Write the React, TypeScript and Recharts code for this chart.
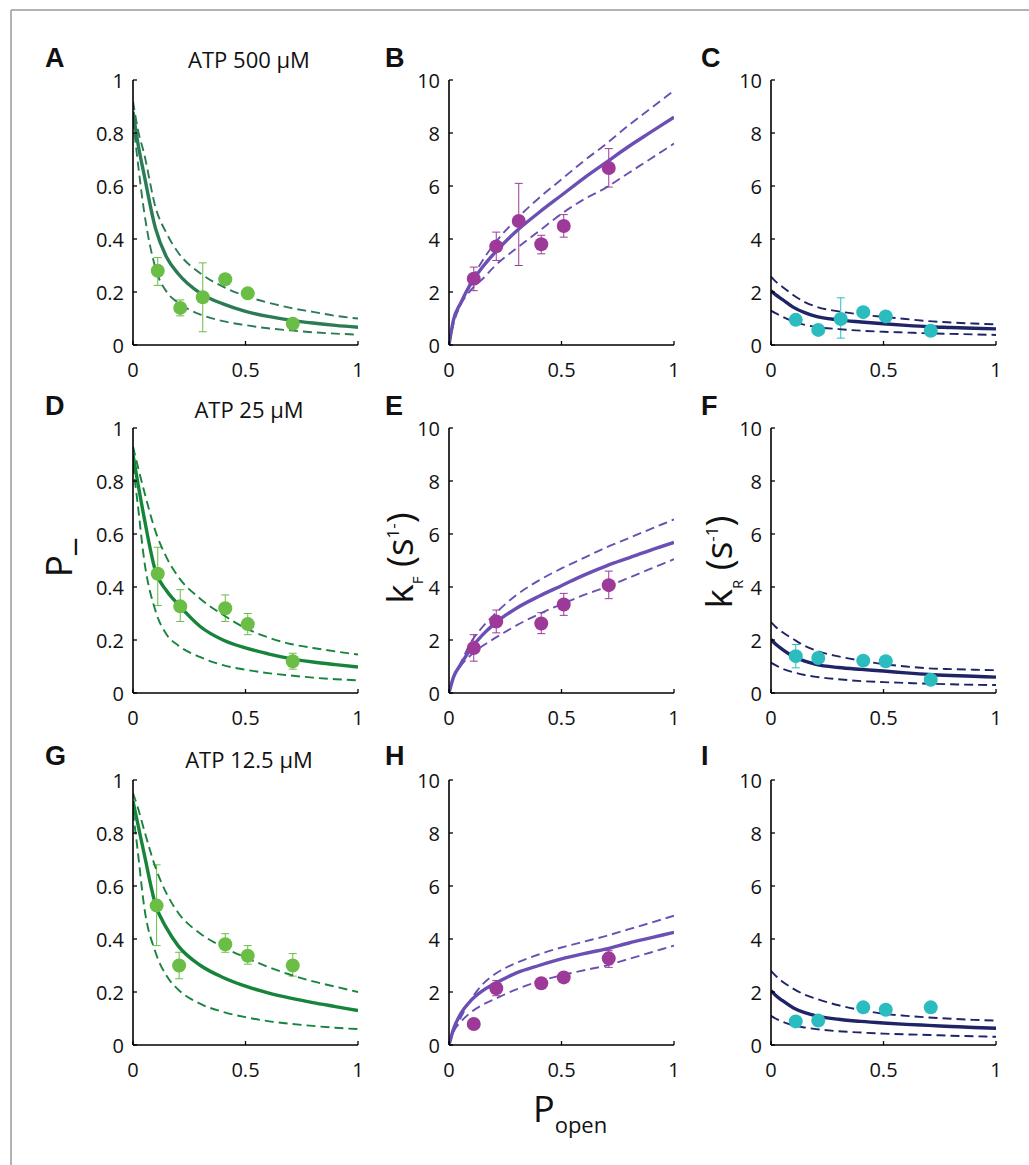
import React from "react";
import { ComposedChart, Line, Scatter, ErrorBar, XAxis, YAxis } from "recharts";

// ─── shared x grid for the fitted curves ─────────────────────────
const curveX = [0, 0.02, 0.05, 0.1, 0.15, 0.2, 0.3, 0.4, 0.5, 0.6, 0.7, 0.8, 0.9, 1];
const xTicks = [0, 0.5, 1];
const pTicks = [0, 0.2, 0.4, 0.6, 0.8, 1];
const kTicks = [0, 2, 4, 6, 8, 10];

// ─── ATP 500 µM ──────────────────────────────────────────────────
const aSolid = [0.88, 0.77, 0.64, 0.44, 0.33, 0.27, 0.195, 0.155, 0.127, 0.108, 0.094, 0.083, 0.074, 0.067];
const aUpper = [0.92, 0.82, 0.72, 0.52, 0.42, 0.35, 0.27, 0.22, 0.185, 0.16, 0.14, 0.125, 0.11, 0.1];
const aLower = [0.85, 0.7, 0.5, 0.29, 0.2, 0.16, 0.115, 0.09, 0.075, 0.063, 0.055, 0.048, 0.043, 0.039];
const aX = [0.11, 0.21, 0.31, 0.41, 0.51, 0.71];
const aY = [0.28, 0.14, 0.18, 0.248, 0.195, 0.08];
const aHi = [0.33, 0.17, 0.31, 0.26, 0.205, 0.09];
const aLo = [0.225, 0.11, 0.05, 0.235, 0.185, 0.07];

const bSolid = [0, 0.95, 1.55, 2.35, 2.95, 3.45, 4.3, 5.0, 5.65, 6.3, 6.9, 7.5, 8.05, 8.6];
const bUpper = [0, 0.8, 1.5, 2.45, 3.2, 3.8, 4.75, 5.55, 6.25, 6.95, 7.6, 8.3, 8.95, 9.6];
const bLower = [0, 0.9, 1.5, 2.1, 2.5, 2.95, 3.65, 4.3, 4.95, 5.5, 5.95, 6.5, 7.05, 7.6];
const bX = [0.11, 0.21, 0.31, 0.41, 0.51, 0.71];
const bY = [2.5, 3.72, 4.68, 3.8, 4.49, 6.68];
const bHi = [2.94, 4.26, 6.1, 4.14, 4.92, 7.41];
const bLo = [2.05, 3.19, 3.0, 3.44, 4.07, 5.96];

const cSolid = [2.05, 1.9, 1.72, 1.42, 1.22, 1.08, 0.95, 0.87, 0.8, 0.74, 0.69, 0.66, 0.63, 0.61];
const cUpper = [2.58, 2.4, 2.2, 1.88, 1.62, 1.45, 1.27, 1.15, 1.06, 0.98, 0.9, 0.85, 0.81, 0.78];
const cLower = [1.3, 1.2, 1.07, 0.88, 0.76, 0.68, 0.6, 0.54, 0.5, 0.47, 0.44, 0.42, 0.4, 0.38];
const cX = [0.11, 0.21, 0.31, 0.41, 0.51, 0.71];
const cY = [0.95, 0.57, 0.98, 1.24, 1.08, 0.54];
const cHi = [1.05, 0.65, 1.78, 1.35, 1.18, 0.62];
const cLo = [0.85, 0.5, 0.26, 1.13, 0.98, 0.46];

// ─── ATP 25 µM ───────────────────────────────────────────────────
const dSolid = [0.9, 0.8, 0.66, 0.46, 0.385, 0.335, 0.25, 0.2, 0.17, 0.148, 0.13, 0.117, 0.107, 0.098];
const dUpper = [0.93, 0.86, 0.76, 0.61, 0.51, 0.44, 0.355, 0.295, 0.245, 0.21, 0.185, 0.17, 0.157, 0.145];
const dLower = [0.86, 0.72, 0.5, 0.31, 0.22, 0.18, 0.135, 0.105, 0.088, 0.075, 0.066, 0.058, 0.052, 0.048];
const dX = [0.11, 0.21, 0.41, 0.51, 0.71];
const dY = [0.45, 0.327, 0.32, 0.26, 0.12];
const dHi = [0.55, 0.39, 0.37, 0.3, 0.15];
const dLo = [0.33, 0.27, 0.27, 0.22, 0.09];

const eSolid = [0, 0.6, 1.05, 1.7, 2.2, 2.6, 3.2, 3.65, 4.05, 4.45, 4.8, 5.1, 5.4, 5.68];
const eUpper = [0, 0.6, 1.1, 1.95, 2.5, 2.95, 3.7, 4.25, 4.7, 5.1, 5.5, 5.85, 6.2, 6.55];
const eLower = [0, 0.6, 1.0, 1.45, 1.78, 2.05, 2.55, 2.98, 3.35, 3.7, 4.0, 4.35, 4.7, 5.05];
const eX = [0.11, 0.21, 0.41, 0.51, 0.71];
const eY = [1.7, 2.7, 2.62, 3.34, 4.07];
const eHi = [2.2, 3.13, 3.03, 3.76, 4.6];
const eLo = [1.2, 2.27, 2.24, 2.93, 3.56];

const fSolid = [2.02, 1.85, 1.65, 1.38, 1.2, 1.08, 0.96, 0.89, 0.83, 0.76, 0.7, 0.66, 0.63, 0.6];
const fUpper = [2.67, 2.5, 2.3, 2.03, 1.78, 1.6, 1.38, 1.22, 1.09, 1.0, 0.93, 0.9, 0.88, 0.86];
const fLower = [1.15, 1.05, 0.92, 0.78, 0.68, 0.61, 0.52, 0.45, 0.41, 0.38, 0.35, 0.33, 0.31, 0.3];
const fX = [0.11, 0.21, 0.41, 0.51, 0.71];
const fY = [1.39, 1.32, 1.22, 1.2, 0.5];
const fHi = [1.83, 1.42, 1.3, 1.3, 0.58];
const fLo = [0.95, 1.22, 1.14, 1.1, 0.42];

// ─── ATP 12.5 µM ─────────────────────────────────────────────────
const gSolid = [0.92, 0.84, 0.72, 0.53, 0.44, 0.375, 0.3, 0.255, 0.222, 0.197, 0.177, 0.16, 0.145, 0.13];
const gUpper = [0.95, 0.9, 0.81, 0.67, 0.57, 0.5, 0.42, 0.37, 0.33, 0.295, 0.265, 0.24, 0.22, 0.2];
const gLower = [0.88, 0.74, 0.52, 0.35, 0.26, 0.21, 0.155, 0.125, 0.105, 0.09, 0.08, 0.072, 0.065, 0.06];
const gX = [0.105, 0.205, 0.41, 0.51, 0.71];
const gY = [0.526, 0.3, 0.38, 0.337, 0.3];
const gHi = [0.68, 0.35, 0.42, 0.375, 0.345];
const gLo = [0.375, 0.25, 0.35, 0.305, 0.26];

const hSolid = [0, 0.6, 1.15, 1.7, 2.05, 2.3, 2.72, 3.0, 3.25, 3.45, 3.63, 3.85, 4.05, 4.25];
const hUpper = [0, 0.5, 1.0, 1.75, 2.3, 2.65, 3.1, 3.42, 3.68, 3.9, 4.12, 4.37, 4.62, 4.88];
const hLower = [0, 0.5, 0.85, 1.25, 1.52, 1.72, 2.1, 2.4, 2.63, 2.82, 3.0, 3.25, 3.5, 3.75];
const hX = [0.11, 0.21, 0.41, 0.51, 0.71];
const hY = [0.79, 2.14, 2.33, 2.55, 3.27];
const hHi = [0.95, 2.43, 2.45, 2.7, 3.56];
const hLo = [0.6, 1.86, 2.2, 2.4, 2.93];

const iSolid = [2.05, 1.88, 1.68, 1.4, 1.22, 1.1, 0.97, 0.89, 0.83, 0.78, 0.74, 0.7, 0.66, 0.63];
const iUpper = [2.8, 2.62, 2.4, 2.12, 1.9, 1.75, 1.5, 1.32, 1.18, 1.1, 1.04, 0.99, 0.95, 0.92];
const iLower = [1.1, 1.0, 0.88, 0.74, 0.66, 0.6, 0.52, 0.47, 0.43, 0.4, 0.38, 0.35, 0.33, 0.31];
const iX = [0.11, 0.21, 0.41, 0.51, 0.71];
const iY = [0.89, 0.92, 1.42, 1.33, 1.42];
const iHi = [1.0, 1.02, 1.5, 1.42, 1.5];
const iLo = [0.78, 0.82, 1.34, 1.24, 1.34];

// ─── colours ─────────────────────────────────────────────────────
const GREEN_TOP = "#2b7b55";
const GREEN = "#17843c";
const GREEN_DOT = "#6abd45";
const PURPLE = "#6b4fb3";
const PURPLE_DOT = "#9d3a99";
const NAVY = "#1e2466";
const CYAN_DOT = "#2bbcbf";

const BOX_W = 225;
const BOX_H = 265;
const Y_AX_W = 50;
const M_TOP = 20;
const M_RIGHT = 10;
const X_AX_H = 40;

const tickFont = { fontFamily: "'Open Sans', sans-serif", fontSize: 20, fill: "#111" };

const BottomTick = ({ x, y, payload }: any) => (
  <g>
    <line x1={x} x2={x} y1={y} y2={y - 4} stroke="#000" strokeWidth={1.3} />
    <text x={x} y={y + 24} textAnchor="middle" dominantBaseline="central" {...tickFont}>
      {payload.value}
    </text>
  </g>
);
const TopTick = ({ x, y }: any) => <line x1={x} x2={x} y1={y} y2={y + 4} stroke="#000" strokeWidth={1.3} />;
const LeftTick = ({ x, y, payload }: any) => (
  <g>
    <line x1={x} x2={x + 4} y1={y} y2={y} stroke="#000" strokeWidth={1.3} />
    <text x={x - 9} y={y} textAnchor="end" dominantBaseline="central" {...tickFont}>
      {payload.value}
    </text>
  </g>
);
const RightTick = ({ x, y }: any) => <line x1={x} x2={x - 4} y1={y} y2={y} stroke="#000" strokeWidth={1.3} />;

const panels = [
  { id: "A", left: 133, top: 80, yMax: 1, yTicks: pTicks, solid: aSolid, upper: aUpper, lower: aLower, px: aX, py: aY, hi: aHi, lo: aLo, line: GREEN_TOP, dot: GREEN_DOT },
  { id: "B", left: 449, top: 80, yMax: 10, yTicks: kTicks, solid: bSolid, upper: bUpper, lower: bLower, px: bX, py: bY, hi: bHi, lo: bLo, line: PURPLE, dot: PURPLE_DOT },
  { id: "C", left: 771, top: 80, yMax: 10, yTicks: kTicks, solid: cSolid, upper: cUpper, lower: cLower, px: cX, py: cY, hi: cHi, lo: cLo, line: NAVY, dot: CYAN_DOT },
  { id: "D", left: 133, top: 428, yMax: 1, yTicks: pTicks, solid: dSolid, upper: dUpper, lower: dLower, px: dX, py: dY, hi: dHi, lo: dLo, line: GREEN, dot: GREEN_DOT },
  { id: "E", left: 449, top: 428, yMax: 10, yTicks: kTicks, solid: eSolid, upper: eUpper, lower: eLower, px: eX, py: eY, hi: eHi, lo: eLo, line: PURPLE, dot: PURPLE_DOT },
  { id: "F", left: 771, top: 428, yMax: 10, yTicks: kTicks, solid: fSolid, upper: fUpper, lower: fLower, px: fX, py: fY, hi: fHi, lo: fLo, line: NAVY, dot: CYAN_DOT },
  { id: "G", left: 133, top: 780, yMax: 1, yTicks: pTicks, solid: gSolid, upper: gUpper, lower: gLower, px: gX, py: gY, hi: gHi, lo: gLo, line: GREEN, dot: GREEN_DOT },
  { id: "H", left: 449, top: 780, yMax: 10, yTicks: kTicks, solid: hSolid, upper: hUpper, lower: hLower, px: hX, py: hY, hi: hHi, lo: hLo, line: PURPLE, dot: PURPLE_DOT },
  { id: "I", left: 771, top: 780, yMax: 10, yTicks: kTicks, solid: iSolid, upper: iUpper, lower: iLower, px: iX, py: iY, hi: iHi, lo: iLo, line: NAVY, dot: CYAN_DOT },
];

function Panel({ cfg }: { cfg: (typeof panels)[number] }) {
  const data = curveX.map((x, i) => ({ x, solid: cfg.solid[i], upper: cfg.upper[i], lower: cfg.lower[i] }));
  const pts = cfg.px.map((x, i) => ({ x, y: cfg.py[i], err: [cfg.py[i] - cfg.lo[i], cfg.hi[i] - cfg.py[i]] }));
  const axisLine = { stroke: "#000", strokeWidth: 1.6 };
  return (
    <div style={{ position: "absolute", left: cfg.left - Y_AX_W, top: cfg.top - M_TOP }}>
      <ComposedChart
        width={Y_AX_W + BOX_W + M_RIGHT}
        height={M_TOP + BOX_H + X_AX_H}
        data={data}
        margin={{ top: M_TOP, right: M_RIGHT, left: 0, bottom: 0 }}
      >
        <XAxis dataKey="x" type="number" domain={[0, 1]} ticks={xTicks} allowDataOverflow height={X_AX_H}
          tickSize={0} tickMargin={0} tickLine={false} axisLine={axisLine} tick={BottomTick} interval={0} />
        <XAxis xAxisId="top" orientation="top" type="number" domain={[0, 1]} ticks={xTicks} allowDataOverflow height={0}
          tickSize={0} tickMargin={0} tickLine={false} axisLine={axisLine} tick={TopTick} interval={0} />
        <YAxis type="number" domain={[0, cfg.yMax]} ticks={cfg.yTicks} allowDataOverflow width={Y_AX_W}
          tickSize={0} tickMargin={0} tickLine={false} axisLine={axisLine} tick={LeftTick} interval={0} />
        <YAxis yAxisId="right" orientation="right" type="number" domain={[0, cfg.yMax]} ticks={cfg.yTicks} allowDataOverflow width={0}
          tickSize={0} tickMargin={0} tickLine={false} axisLine={axisLine} tick={RightTick} interval={0} />
        <Scatter data={pts} dataKey="y" fill={cfg.dot} isAnimationActive={false}
          shape={(p: any) => <circle cx={p.cx} cy={p.cy} r={7} fill={cfg.dot} />}>
          <ErrorBar dataKey="err" direction="y" width={4} stroke={cfg.dot} strokeWidth={1} />
        </Scatter>
        <Line dataKey="upper" type="monotone" stroke={cfg.line} strokeWidth={1.9} strokeDasharray="9 5" dot={false} activeDot={false} isAnimationActive={false} />
        <Line dataKey="lower" type="monotone" stroke={cfg.line} strokeWidth={1.9} strokeDasharray="9 5" dot={false} activeDot={false} isAnimationActive={false} />
        <Line dataKey="solid" type="monotone" stroke={cfg.line} strokeWidth={3.4} dot={false} activeDot={false} isAnimationActive={false} />
      </ComposedChart>
    </div>
  );
}

const letterFont = { fontFamily: "'Liberation Sans', Arial, sans-serif", fontWeight: 700, fontSize: 27, fill: "#111" };
const labelFont = { fontFamily: "'Open Sans', sans-serif", fill: "#111" };

export default function App() {
  return (
    <div style={{ position: "absolute", left: 0, top: 0, width: 1029, height: 1165, background: "#fff", overflow: "hidden" }}>
      {panels.map((p) => (
        <Panel key={p.id} cfg={p} />
      ))}
      <svg width={1029} height={1165} style={{ position: "absolute", left: 0, top: 0, pointerEvents: "none" }}>
        {/* frame */}
        <line x1={11} y1={10} x2={1029} y2={10} stroke="#9a9a9a" strokeWidth={1.5} />
        <line x1={11} y1={10} x2={11} y2={1165} stroke="#9a9a9a" strokeWidth={1.5} />

        {/* panel letters */}
        <text x={45} y={67} {...letterFont}>A</text>
        <text x={385} y={67} {...letterFont}>B</text>
        <text x={701} y={67} {...letterFont}>C</text>
        <text x={45} y={415} {...letterFont}>D</text>
        <text x={385} y={415} {...letterFont}>E</text>
        <text x={701} y={415} {...letterFont}>F</text>
        <text x={45} y={765} {...letterFont}>G</text>
        <text x={385} y={765} {...letterFont}>H</text>
        <text x={701} y={765} {...letterFont}>I</text>

        {/* titles */}
        <text x={249} y={68} textAnchor="middle" fontSize={22} {...labelFont}>ATP 500 μM</text>
        <text x={249} y={418} textAnchor="middle" fontSize={22} {...labelFont}>ATP 25 μM</text>
        <text x={249} y={768} textAnchor="middle" fontSize={22} {...labelFont}>ATP 12.5 μM</text>

        {/* y labels */}
        <g transform="translate(72,558) rotate(-90)">
          <text x={0} y={0} textAnchor="middle" fontSize={37} {...labelFont}>P_</text>
        </g>
        <g transform="translate(413,558) rotate(-90)">
          <text x={0} y={0} textAnchor="middle" fontSize={37} {...labelFont}>
            <tspan>k</tspan>
            <tspan fontSize={15} dy={10}>F</tspan>
            <tspan dy={-10}> (s</tspan>
            <tspan fontSize={17} dy={-14}>1-</tspan>
            <tspan dy={14}>)</tspan>
          </text>
        </g>
        <g transform="translate(732,562) rotate(-90)">
          <text x={0} y={0} textAnchor="middle" fontSize={37} {...labelFont}>
            <tspan>k</tspan>
            <tspan fontSize={15} dy={11}>R</tspan>
            <tspan dy={-11}> (s</tspan>
            <tspan fontSize={17} dy={-14}>-1</tspan>
            <tspan dy={14}>)</tspan>
          </text>
        </g>

        {/* x label */}
        <text x={533} y={1122} fontSize={36} {...labelFont}>
          <tspan>P</tspan>
          <tspan fontSize={22} dy={11}>open</tspan>
        </text>
      </svg>
    </div>
  );
}
